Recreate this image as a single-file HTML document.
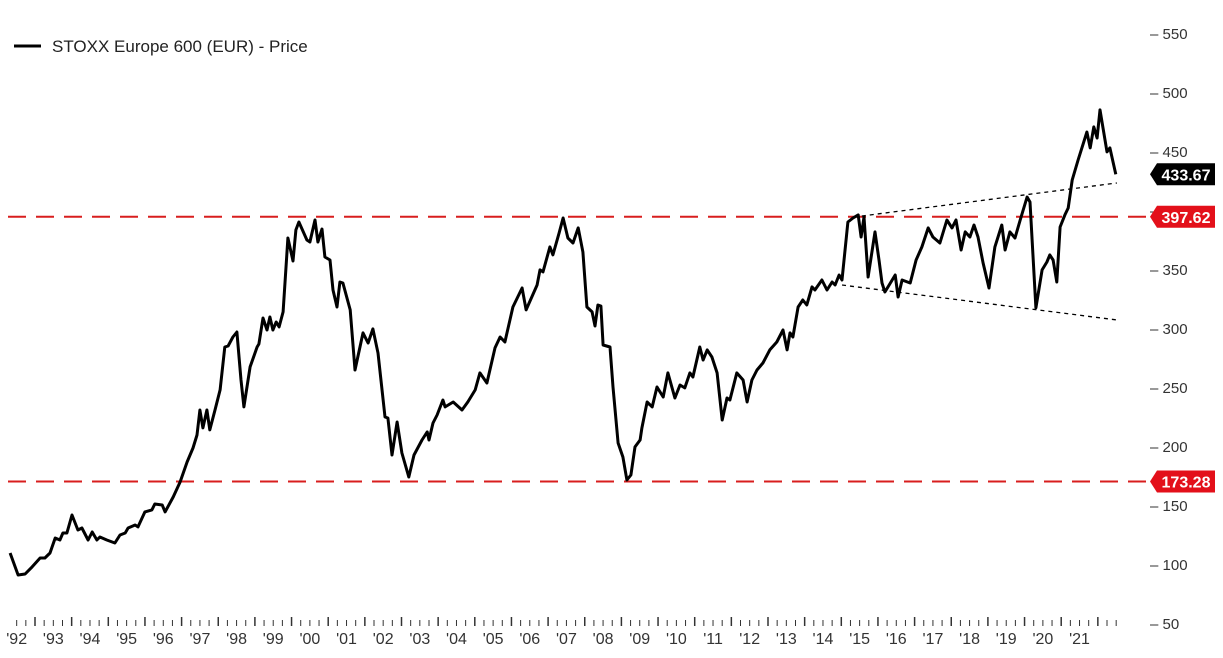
<!DOCTYPE html>
<html><head><meta charset="utf-8"><style>
html,body{margin:0;padding:0;background:#fff;width:1223px;height:658px;overflow:hidden}
svg text{font-family:"Liberation Sans",Arial,sans-serif}
</style></head><body>
<svg id="chart" width="1223" height="658" viewBox="0 0 1223 658" xmlns="http://www.w3.org/2000/svg">
<g id="legend">
<line x1="14" y1="46" x2="41" y2="46" stroke="#000" stroke-width="3"/>
<text x="52" y="52" font-size="17" fill="#222">STOXX Europe 600 (EUR) - Price</text>
</g>
<g id="grid"></g><g id="series"></g><g id="axes"></g><g id="tags"></g>
</svg>
<script>
const dates=[1992.32,1992.54,1992.73,1992.92,1993.14,1993.27,1993.41,1993.55,1993.68,1993.76,1993.87,1994.01,1994.17,1994.28,1994.45,1994.56,1994.69,1994.77,1994.96,1995.18,1995.32,1995.46,1995.54,1995.73,1995.81,1996.00,1996.19,1996.27,1996.47,1996.55,1996.77,1996.96,1997.15,1997.31,1997.42,1997.50,1997.58,1997.69,1997.77,1997.91,1998.05,1998.18,1998.27,1998.40,1998.51,1998.62,1998.70,1998.87,1999.06,1999.11,1999.22,1999.33,1999.41,1999.49,1999.58,1999.66,1999.77,1999.90,2000.04,2000.12,2000.20,2000.42,2000.50,2000.64,2000.72,2000.83,2000.91,2001.05,2001.13,2001.24,2001.32,2001.40,2001.60,2001.73,2001.95,2002.09,2002.22,2002.36,2002.55,2002.63,2002.74,2002.88,2003.01,2003.20,2003.34,2003.56,2003.70,2003.75,2003.86,2003.97,2004.13,2004.19,2004.41,2004.65,2004.81,2005.01,2005.14,2005.33,2005.55,2005.69,2005.82,2006.04,2006.29,2006.40,2006.70,2006.78,2006.86,2007.05,2007.13,2007.30,2007.41,2007.54,2007.68,2007.82,2007.95,2008.06,2008.20,2008.28,2008.36,2008.44,2008.50,2008.69,2008.77,2008.91,2009.04,2009.15,2009.26,2009.37,2009.51,2009.56,2009.70,2009.84,2009.97,2010.14,2010.27,2010.46,2010.60,2010.73,2010.87,2010.95,2011.14,2011.23,2011.34,2011.47,2011.61,2011.75,2011.88,2011.96,2012.15,2012.32,2012.43,2012.56,2012.70,2012.86,2013.05,2013.24,2013.41,2013.52,2013.60,2013.68,2013.82,2013.95,2014.06,2014.20,2014.28,2014.47,2014.61,2014.75,2014.83,2014.94,2015.02,2015.18,2015.32,2015.46,2015.54,2015.62,2015.73,2015.92,2016.03,2016.11,2016.19,2016.47,2016.55,2016.66,2016.88,2017.04,2017.20,2017.37,2017.50,2017.69,2017.88,2018.02,2018.13,2018.27,2018.38,2018.51,2018.62,2018.73,2018.87,2019.03,2019.19,2019.38,2019.47,2019.60,2019.74,2019.88,2020.07,2020.15,2020.31,2020.48,2020.61,2020.69,2020.78,2020.88,2020.97,2021.10,2021.19,2021.30,2021.46,2021.70,2021.79,2021.89,2021.98,2022.06,2022.25,2022.33,2022.49];
const prices=[112.7,94.1,94.9,100.9,108.5,108.5,112.7,125.4,123.7,129.7,129.7,144.9,132.2,133.9,123.7,130.5,123.7,126.3,123.7,121.2,128,129.7,133.9,136.4,134.8,147.5,149.2,154.2,153.4,147.5,160.2,172.9,189.8,201.7,212.7,233.9,218.7,233.9,217,233.9,250.9,287.3,288.1,295.8,300,259.3,236.5,270.4,287.3,289.8,311.9,301.7,312.7,301.7,308.5,304.3,317,379.7,360.2,386.5,393.2,378,376.3,394.9,376.3,387.3,363.6,361,335.6,321.2,342.4,341.5,318.7,267.8,299.2,290.7,302.6,282.2,228,227.1,195.8,223.7,197.5,177.1,195.8,208.5,215.3,208.5,222.9,229.7,242.4,236.5,240.7,233.9,240.7,250.9,265.3,256.8,286.5,295.8,291.5,321.2,337.3,318.7,339.8,352.6,350.9,372.1,365.3,383.9,396.6,379.7,375.4,388.2,367.8,321.2,317,305.1,322.9,322,289,287.3,253.4,205.9,194.1,174.6,178.8,202.6,208.5,218.7,240.7,236.5,253.4,244.9,265.3,244.1,255.1,252.6,265.3,261.9,287.3,276.3,284.8,278.8,265.3,225.4,244.1,242.4,265.3,259.3,240.7,259.3,267.8,273.7,284.8,291.5,301.7,284.8,299.2,295.8,321.2,327.1,322.9,338.2,335.6,344.1,335.6,342.4,339.8,348.3,344.1,393.2,396.6,399.2,380.5,397.5,346.6,384.8,361,341.5,333.9,348.3,329.7,344.1,341.5,361,372.1,388.2,380.5,375.4,394.9,388.2,394.9,369.5,384.8,380.5,390.7,380.5,358.5,337.3,372.1,390.7,369.5,384.8,379.7,394.9,414.4,410.2,320.4,352.6,359.3,365.3,361,342.4,389,399.2,405.1,428.8,445.8,469.5,456,473.8,464.4,488.2,452.6,456,433.67];
const yTicks=[50,100,150,200,250,300,350,400,450,500,550];
const yearLabels=["'92","'93","'94","'95","'96","'97","'98","'99","'00","'01","'02","'03","'04","'05","'06","'07","'08","'09","'10","'11","'12","'13","'14","'15","'16","'17","'18","'19","'20","'21"];
const levels=[397.62,173.28];
const lastPrice=433.67;
const upperTrendDates=[2015.56,2022.52],upperTrendVals=[398.3,426.3];
const lowerTrendDates=[2015.02,2022.52],lowerTrendVals=[339.8,310.2];

const NS="http://www.w3.org/2000/svg";
const x=t=>35+(t-1993)*36.65;
const y=v=>627-(v-50)*1.18;
function mk(tag,attrs,parent){const e=document.createElementNS(NS,tag);for(const k in attrs)e.setAttribute(k,attrs[k]);document.getElementById(parent).appendChild(e);return e;}

levels.forEach((lv,i)=>{
 const l=mk('line',{x1:8,x2:1152,y1:y(lv),y2:y(lv),stroke:'#d81e1e','stroke-width':2,'stroke-dasharray':'18 10'},'grid');
 
 
});
[[upperTrendDates,upperTrendVals,'upper-trend-line'],[lowerTrendDates,lowerTrendVals,'lower-trend-line']].forEach(([d,v,n])=>{
 const l=mk('line',{x1:x(d[0]),y1:y(v[0]),x2:x(d[1]),y2:y(v[1]),stroke:'#000','stroke-width':1.3,'stroke-dasharray':'4 4'},'grid');
 
 
});
const pts=dates.map((d,i)=>x(d).toFixed(1)+','+y(prices[i]).toFixed(1)).join(' ');
const pl=mk('polyline',{points:pts,fill:'none',stroke:'#000','stroke-width':3,'stroke-linejoin':'round'},'series');



yTicks.forEach(v=>{
 const t=mk('text',{x:1150,y:y(v)+2,'font-size':15,fill:'#333'},'axes');
 t.textContent='\u2013 '+v;
 
 
});
for(let q=0;q<=122;q++){
 const t=1992+q/4; const xx=x(t); if(xx<9||xx>1118)continue;
 const major=q%4===0;
 const l=mk('line',{x1:xx,x2:xx,y1:major?617:620,y2:626,stroke:'#333','stroke-width':major?1.5:1},'axes');
 
 
}
yearLabels.forEach((lb,i)=>{
 const t=mk('text',{x:x(1992.5+i),y:644,'font-size':16,fill:'#333','text-anchor':'middle'},'axes');
 t.textContent=lb;
 
 
});
function tag(v,color,name){
 const yy=y(v);
 const g=mk('g',{},'tags');
 
 
 const p=document.createElementNS(NS,'path');
 p.setAttribute('d',`M1150,${yy} L1157,${yy-11} L1215,${yy-11} L1215,${yy+11} L1157,${yy+11} Z`);
 p.setAttribute('fill',color);
 g.appendChild(p);
 const t=document.createElementNS(NS,'text');
 t.setAttribute('x',1186);t.setAttribute('y',yy+6);t.setAttribute('font-size',16);
 t.setAttribute('font-weight','bold');t.setAttribute('fill','#fff');t.setAttribute('text-anchor','middle');
 t.textContent=v.toFixed(2);
 g.appendChild(t);
}
tag(lastPrice,'#000','last-price-tag');
tag(levels[0],'#e3101a','resistance-tag');
tag(levels[1],'#e3101a','support-tag');
</script>
</body></html>
